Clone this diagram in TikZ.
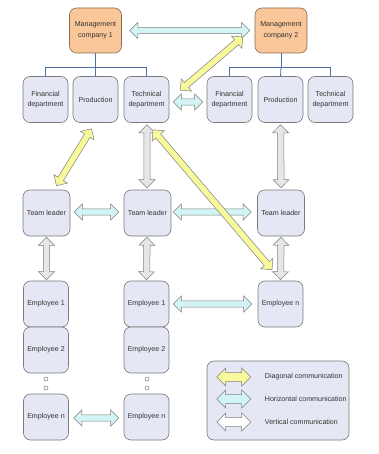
\documentclass[tikz,border=0pt]{standalone}
\usepackage{fontspec}
\setmainfont{Liberation Sans}
\usetikzlibrary{calc}
\definecolor{boxfill}{HTML}{E5E8F4}
\definecolor{boxline}{HTML}{7A7A7A}
\definecolor{mcfill}{HTML}{F9C79A}
\definecolor{mcline}{HTML}{8C6D50}
\definecolor{treeline}{HTML}{4F6FA8}
\definecolor{txt}{HTML}{333333}
\definecolor{yel}{HTML}{F8F89C}
\definecolor{cya}{HTML}{D2F4F4}
\definecolor{gry}{HTML}{E6E6E6}
\definecolor{arrline}{HTML}{808080}
\newcommand\blockarrow[6]{%
\coordinate (ba-s) at #2; \coordinate (ba-e) at #3;
\coordinate (ba-p) at ($(ba-s)!#6!(ba-e)$);
\coordinate (ba-q) at ($(ba-e)!#6!(ba-s)$);
\draw[arrowline, fill=#1] (ba-s) -- ($(ba-p)!#4!90:(ba-e)$) -- ($(ba-p)!#5!90:(ba-e)$)
 -- ($(ba-q)!#5!-90:(ba-s)$) -- ($(ba-q)!#4!-90:(ba-s)$) -- (ba-e)
 -- ($(ba-q)!#4!90:(ba-s)$) -- ($(ba-q)!#5!90:(ba-s)$)
 -- ($(ba-p)!#5!-90:(ba-e)$) -- ($(ba-p)!#4!-90:(ba-e)$) -- cycle;}
\newcommand\smallarrow[3]{\blockarrow{#1}{#2}{#3}{8pt}{3.2pt}{8pt}}
\newcommand\legarrow[3]{\blockarrow{#1}{#2}{#3}{9pt}{4.5pt}{9pt}}
\begin{document}
\begin{tikzpicture}[x=1pt,y=-1pt,
  box/.style={draw=boxline, fill=boxfill, line width=0.6pt, rounded corners=7pt,
    minimum width=45pt, minimum height=46pt, align=center, text=txt,
    font=\fontsize{7.1}{10.5}\selectfont, inner sep=1pt},
  mcbox/.style={box, draw=mcline, fill=mcfill, minimum width=52pt, minimum height=45pt},
  tree/.style={draw=treeline, line width=0.8pt},
  arrowline/.style={draw=arrline, line width=0.5pt, line join=miter},
  dot/.style={circle, draw=boxline, line width=0.5pt, fill=white, minimum size=4pt, inner sep=0pt},
  legtext/.style={anchor=west, text=txt, font=\fontsize{7.1}{9}\selectfont, inner sep=0pt}]
\useasboundingbox[fill=white] (0,0) rectangle (379,454);
% top row
\node[mcbox] (mc1) at (95.5,30.5) {Management\\company 1};
\node[mcbox] (mc2) at (281,30.5) {Management\\company 2};
% departments
\node[box] (fin1) at (45.5,99.5) {Financial\\department};
\node[box] (prod1) at (95.5,99.5) {Production};
\node[box] (tech1) at (146.5,99.5) {Technical\\department};
\node[box] (fin2) at (229.5,99.5) {Financial\\department};
\node[box] (prod2) at (280.5,99.5) {Production};
\node[box] (tech2) at (330.5,99.5) {Technical\\department};
% team leaders
\node[box, minimum width=47pt] (tl1) at (46.5,213) {Team leader};
\node[box, minimum width=47pt] (tl2) at (147.5,213) {Team leader};
\node[box, minimum width=47pt] (tl3) at (281,213) {Team leader};
% employees
\node[box] (e1a) at (46,304) {Employee 1};
\node[box] (e2a) at (46,350) {Employee 2};
\node[box] (ena) at (46,417) {Employee n};
\node[box] (e1b) at (146.5,304) {Employee 1};
\node[box] (e2b) at (146.5,350) {Employee 2};
\node[box] (enb) at (146.5,417) {Employee n};
\node[box] (enc) at (280.5,304) {Employee n};
\node[dot] (d1a) at (46,379) {};
\node[dot] (d2a) at (46,388) {};
\node[dot] (d1b) at (147,379) {};
\node[dot] (d2b) at (147,388) {};
% tree lines
\coordinate (j1) at ($(mc1.south)+(0,14)$);
\coordinate (j2) at ($(mc2.south)+(0,14)$);
\draw[tree] (mc1.south) -- (j1);
\draw[tree] (fin1.north) |- (j1) -| (tech1.north);
\draw[tree] (j1) -- (prod1.north);
\draw[tree] (mc2.south) -- (j2);
\draw[tree] (fin2.north) |- (j2) -| (tech2.north);
\draw[tree] (j2) -- (prod2.north);
% horizontal communication
\smallarrow{cya}{($(mc1.east)+(8,0)$)}{($(mc2.west)+(-5,0)$)}
\smallarrow{cya}{($(tech1.east)+(4,2.5)$)}{($(fin2.west)+(-4,2.5)$)}
\smallarrow{cya}{($(tl1.east)+(4,-1)$)}{($(tl2.west)+(-5,-1)$)}
\smallarrow{cya}{($(tl2.east)+(2,-1)$)}{($(tl3.west)+(-6,-1)$)}
\smallarrow{cya}{($(e1b.east)+(4,0)$)}{($(enc.west)+(-6,0)$)}
\smallarrow{cya}{($(ena.east)+(5,1)$)}{($(enb.west)+(-5,1)$)}
% vertical communication
\smallarrow{gry}{($(tech1.south)+(0.5,2)$)}{($(tl2.north)+(-0.5,-2)$)}
\smallarrow{gry}{($(prod2.south)+(0,2)$)}{($(tl3.north)+(0,-2)$)}
\smallarrow{gry}{($(tl1.south)+(0,1)$)}{($(e1a.north)+(0.5,-1)$)}
\smallarrow{gry}{($(tl2.south)+(-0.5,1)$)}{($(e1b.north)+(0,-1)$)}
\smallarrow{gry}{($(tl3.south)+(0,1)$)}{($(enc.north)+(0,-1)$)}
% diagonal communication
\smallarrow{yel}{($(mc2.west)+(-12,6.5)$)}{($(tech1.north east)+(11,14)$)}
\smallarrow{yel}{($(prod1.south)+(-4,6)$)}{($(tl1.north)+(10,-4)$)}
\smallarrow{yel}{($(tech1.south)+(6.5,7)$)}{($(enc.north)+(-8.5,-11)$)}
% legend
\node[draw=boxline, fill=boxfill, line width=0.6pt, rounded corners=7pt,
  minimum width=142pt, minimum height=79pt, inner sep=0pt] (leg) at (278,400.5) {};
\coordinate (la1) at ($(leg.west)+(10,-23.5)$);
\coordinate (lb1) at ($(leg.west)+(44,-23.5)$);
\coordinate (la2) at ($(leg.west)+(10,-1.5)$);
\coordinate (lb2) at ($(leg.west)+(44,-1.5)$);
\coordinate (la3) at ($(leg.west)+(10,21.5)$);
\coordinate (lb3) at ($(leg.west)+(44,21.5)$);
\legarrow{yel}{(la1)}{(lb1)}
\legarrow{cya}{(la2)}{(lb2)}
\legarrow{white}{(la3)}{(lb3)}
\node[legtext] (t1) at ($(leg.west)+(58,-23.5)$) {Diagonal communication};
\node[legtext] (t2) at ($(leg.west)+(58,-1.5)$) {Horizontal communication};
\node[legtext] (t3) at ($(leg.west)+(58,21.5)$) {Vertical communication};
\end{tikzpicture}
\end{document}
